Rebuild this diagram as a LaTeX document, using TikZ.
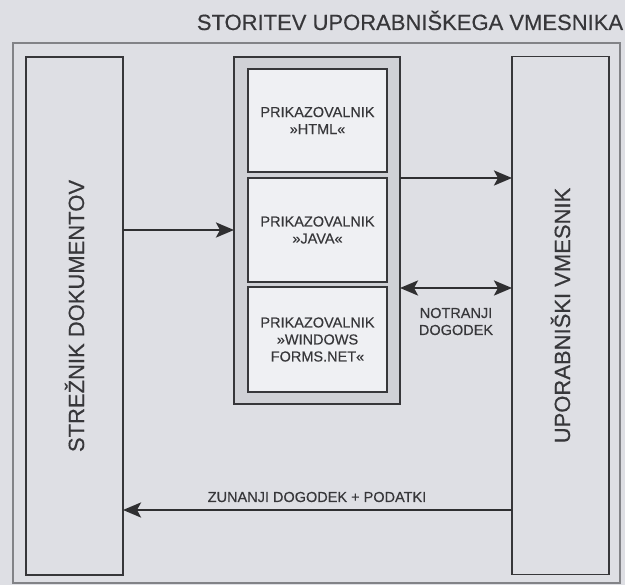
\documentclass[tikz,border=0pt]{standalone}
\usepackage{fontspec}
\setmainfont{Liberation Sans}
\newfontfamily\scanfont[FakeBold=0.35]{Liberation Sans}
\usepackage{tikz}
\usetikzlibrary{arrows.meta,calc}
\definecolor{paper}{RGB}{222,223,228}
\definecolor{band}{RGB}{208,209,214}
\definecolor{sheet}{RGB}{239,240,243}
\definecolor{ink}{RGB}{55,55,58}
\definecolor{faint}{RGB}{130,131,135}
\tikzset{
  bigtxt/.style={font=\scanfont\fontsize{22}{26}\selectfont, text=ink, inner sep=0pt},
  smalltxt/.style={font=\scanfont\fontsize{14.5}{17}\selectfont, text=ink, align=center},
  sidebox/.style={draw=ink, line width=1.3pt, inner sep=0pt, outer sep=0pt, minimum width=97pt, minimum height=518pt},
  viewbox/.style={draw=ink, line width=1.3pt, fill=sheet, inner sep=0pt, outer sep=0pt, minimum width=139pt, smalltxt},
  flow/.style={draw=ink!85!black, line width=2.6pt, -{Stealth[length=18pt,width=15pt,inset=4pt]}},
  twoway/.style={flow, {Stealth[length=18pt,width=15pt,inset=4pt]}-{Stealth[length=18pt,width=15pt,inset=4pt]}},
}
\begin{document}
\begin{tikzpicture}[x=1pt,y=-1pt]
\useasboundingbox (0,0) rectangle (625,585);
\fill[paper] (0,0) rectangle (625,585);
\draw[faint, line width=1.2pt] (13,43) rectangle (620,583);
\node[bigtxt, anchor=base] (title) at (410,30) {STORITEV UPORABNIŠKEGA VMESNIKA};
\node[sidebox] (server) at (74.5,316) {};
\node[sidebox] (client) at (560.5,315.5) {};
\node[bigtxt, rotate=90] (srvlbl) at (server.center) {STREŽNIK DOKUMENTOV};
\node[bigtxt, rotate=90] (clilbl) at (client.center) {UPORABNIŠKI VMESNIK};
\node[draw=ink, line width=1.3pt, fill=band, inner sep=0pt, outer sep=0pt, minimum width=166pt, minimum height=347pt] (views) at (317,230.5) {};
\node[viewbox, minimum height=103pt] (html) at (317.5,120.5) {PRIKAZOVALNIK\\»HTML«};
\node[viewbox, minimum height=104pt] (java) at (317.5,230) {PRIKAZOVALNIK\\»JAVA«};
\node[viewbox, minimum height=105pt] (winf) at (317.5,339.5) {PRIKAZOVALNIK\\»WINDOWS\\FORMS.NET«};
\coordinate (out) at (0,178);
\coordinate (inner) at (0,288);
\coordinate (outer) at (0,510);
\draw[flow] (server.east |- java) -- (views.west |- java);
\draw[flow] (views.east |- out) -- (client.west |- out);
\draw[twoway] (views.east |- inner) -- (client.west |- inner);
\draw[flow] (client.west |- outer) -- (server.east |- outer);
\node[smalltxt] (inev) at (456,321.5) {NOTRANJI\\DOGODEK};
\node[smalltxt] (outev) at (317,497) {ZUNANJI DOGODEK + PODATKI};
\end{tikzpicture}
\end{document}
